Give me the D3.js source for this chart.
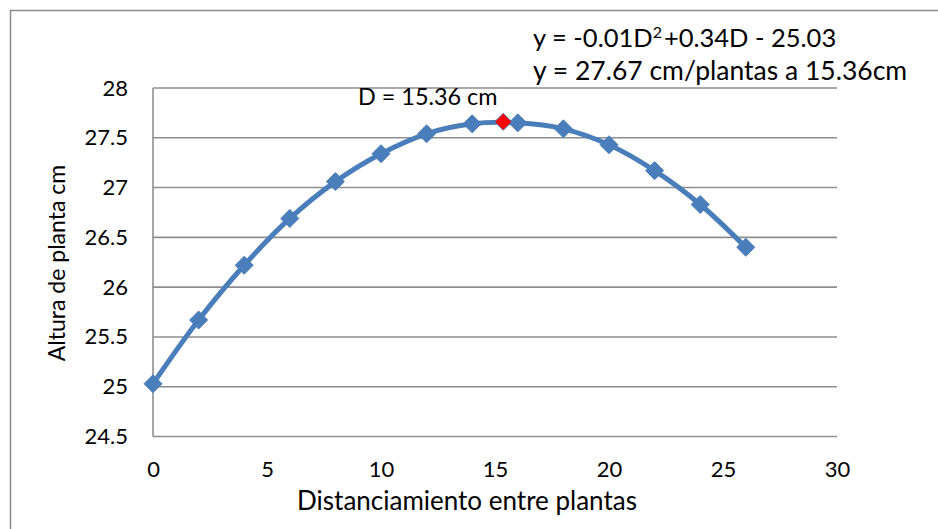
<!DOCTYPE html>
<html><head><meta charset="utf-8">
<script src="https://cdn.jsdelivr.net/npm/d3@7"></script>
<style>body{margin:0;background:#fff}svg{display:block}text{font-family:Lato,"Open Sans",sans-serif;fill:#000}</style>
</head><body>
<script>
const distances = [0,2,4,6,8,10,12,14,16,18,20,22,24,26];
const heights = [25.03,25.67,26.22,26.69,27.06,27.34,27.54,27.64,27.65,27.59,27.43,27.17,26.83,26.40];
const optimum = [{x:15.36, y:27.66}];
const xTicks = [0,5,10,15,20,25,30];
const yTicks = [24.5,25,25.5,26,26.5,27,27.5,28];
const xTitle = "Distanciamiento entre plantas";
const yTitle = "Altura de planta cm";
const eqLine1 = ["y = -0.01D", "2", "+0.34D - 25.03"];
const eqLine2 = "y = 27.67 cm/plantas a 15.36cm";
const optLabel = "D = 15.36 cm";

const W = 938, H = 529;
const svg = d3.select("body").append("svg").attr("width", W).attr("height", H);

// outer frame
svg.append("path").attr("d", `M10.5,${H} L10.5,10.5 L${W},10.5`).attr("fill","none").attr("stroke","#8c8c8c").attr("stroke-width",1.5);

const x = d3.scaleLinear().domain([0,30]).range([153,837]);
const y = d3.scaleLinear().domain([24.5,28]).range([436.5,88]);

// gridlines
svg.append("g").selectAll("line").data(yTicks).join("line")
  .attr("x1", x(0)).attr("x2", x(30)).attr("y1", d=>y(d)).attr("y2", d=>y(d))
  .attr("stroke","#8e8e8e").attr("stroke-width",1.6);
// y axis line
svg.append("line").attr("x1",x(0)).attr("x2",x(0)).attr("y1",y(28)).attr("y2",y(24.5))
  .attr("stroke","#8e8e8e").attr("stroke-width",1.6);

// y tick labels
const yAxis = d3.axisLeft(y).tickValues(yTicks).tickSize(0).tickPadding(25).tickFormat(d=>String(d));
const gy = svg.append("g").attr("transform",`translate(${x(0)},0)`).call(yAxis);
gy.select(".domain").remove();
gy.selectAll("text").attr("font-size",22).attr("font-family","Lato, 'Open Sans', sans-serif").attr("fill","#000");

// x tick labels
const xAxis = d3.axisBottom(x).tickValues(xTicks).tickSize(0).tickPadding(25).tickFormat(d=>String(d));
const gx = svg.append("g").attr("transform",`translate(0,${y(24.5)})`).call(xAxis);
gx.select(".domain").remove();
gx.selectAll("text").attr("font-size",22).attr("font-family","Lato, 'Open Sans', sans-serif").attr("fill","#000");

// titles
svg.append("text").attr("x", 467).attr("y", 510).attr("text-anchor","middle").attr("font-size",26).text(xTitle);
svg.append("text").attr("transform","translate(65,263) rotate(-90)").attr("text-anchor","middle").attr("font-size",23).text(yTitle);

// curve
const pts = distances.map((d,i)=>({x:d, y:heights[i]}));
const line = d3.line().x(d=>x(d.x)).y(d=>y(d.y)).curve(d3.curveCatmullRom.alpha(0.5));
svg.append("path").datum(pts).attr("d", line).attr("fill","none").attr("stroke","#4a7ebb").attr("stroke-width",5).attr("stroke-linejoin","round");

// markers
const diamond = (r)=>`M0,${-r} L${r},0 L0,${r} L${-r},0 Z`;
svg.append("g").selectAll("path").data(pts).join("path")
  .attr("transform", d=>`translate(${x(d.x)},${y(d.y)})`)
  .attr("d", diamond(9)).attr("fill","#4a7ebb").attr("stroke","#4a7ebb").attr("stroke-width",1);
svg.append("g").selectAll("path").data(optimum).join("path")
  .attr("transform", d=>`translate(${x(d.x)},${y(d.y)})`)
  .attr("d", diamond(8.5)).attr("fill","#ff0000").attr("stroke","#4a7ebb").attr("stroke-width",1);

// annotations
const t1 = svg.append("text").attr("x",533).attr("y",47).attr("font-size",25.5);
t1.append("tspan").text(eqLine1[0]);
t1.append("tspan").attr("dy",-9).attr("font-size",16).text(eqLine1[1]);
t1.append("tspan").attr("dy",9).attr("dx",2).text(eqLine1[2]);
svg.append("text").attr("x",533).attr("y",80).attr("font-size",26.5).text(eqLine2);
svg.append("text").attr("x",358).attr("y",105).attr("font-size",23.4).text(optLabel);
</script>
</body></html>
